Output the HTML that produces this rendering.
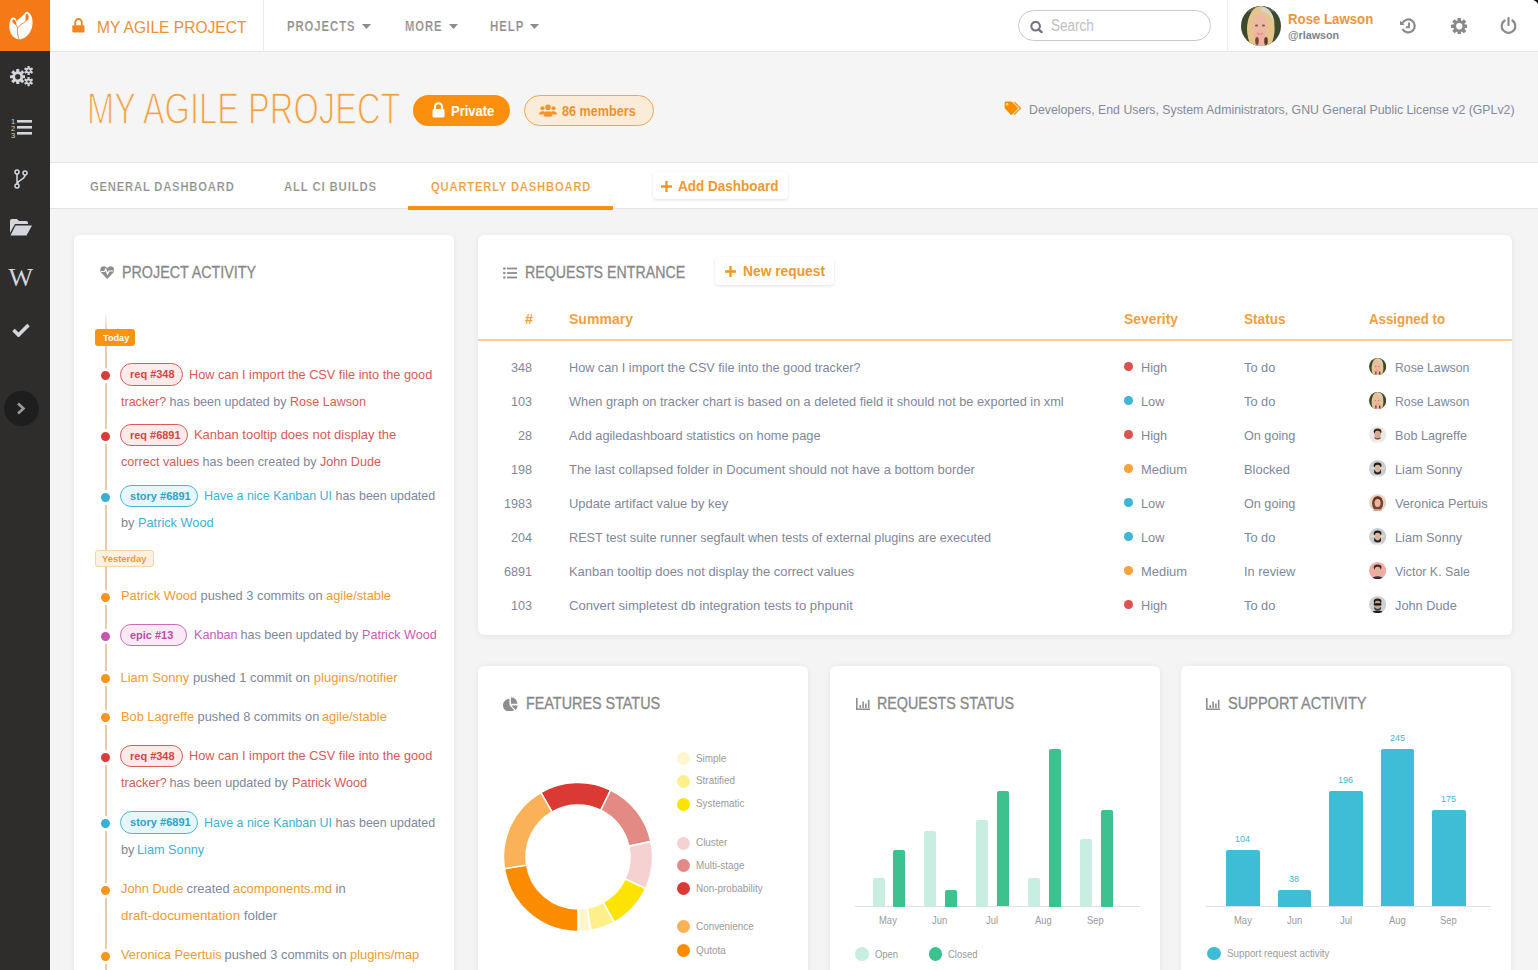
<!DOCTYPE html>
<html><head><meta charset="utf-8"><title>My Agile Project</title>
<style>
html,body{margin:0;padding:0;}
body{width:1538px;height:970px;overflow:hidden;position:relative;background:#f3f3f3;font-family:"Liberation Sans",sans-serif;}
.b{position:absolute;}
.t{position:absolute;white-space:pre;line-height:1;transform-origin:0 50%;}
</style></head><body>
<div class="b" style="left:50px;top:0px;width:1488px;height:51px;background:#fff;"></div>
<div class="b" style="left:50px;top:51px;width:1488px;height:1px;background:#e6e6e6;"></div>
<div class="b" style="left:50px;top:52px;width:1488px;height:110px;background:#f5f5f5;"></div>
<div class="b" style="left:50px;top:162px;width:1488px;height:1px;background:#e3e3e3;"></div>
<div class="b" style="left:50px;top:163px;width:1488px;height:45px;background:#fff;"></div>
<div class="b" style="left:50px;top:208px;width:1488px;height:1px;background:#e4e4e4;"></div>
<div class="b" style="left:50px;top:209px;width:1488px;height:761px;background:#f4f4f4;"></div>
<div class="b" style="left:0px;top:0px;width:50px;height:51px;background:#f57a17;"></div>
<div class="b" style="left:0px;top:51px;width:50px;height:919px;background:#2f2d2c;"></div>
<svg class="b" style="left:0px;top:0px" width="50" height="51" viewBox="0 0 50 51">
<path d="M19.5 39.5 C13 38.5 9 33 9.3 26 C9.5 21.5 10.5 18 13 17.5 C15.2 17 16.3 19.3 16.7 21.3 C18 19.6 20 17.8 21.8 16.6 C23.6 15.2 25.3 11.6 27.5 11.8 C30 12.5 32.8 17 32.6 23 C32.4 31 27 38.5 19.5 39.5Z" fill="#fff"/>
<path d="M12.3 21 C12.5 19.3 13.6 19 14.6 19.8 C15.8 21 16.6 23.5 16.3 25.2 C14.6 24.6 12.2 23 12.3 21Z" fill="#f57a17"/>
<path d="M26.3 13.8 C27.2 13.3 28.4 14.5 28.7 16.5 C28.9 18.3 28 20.6 25.6 21.3 C25.4 18.5 25.5 15.3 26.3 13.8Z" fill="#f57a17"/>
<path d="M25.6 21.4 C22.5 23.4 19.5 25.5 17.8 27.8 C16.8 30.5 17.6 35 19.2 39.5" fill="none" stroke="#e0782a" stroke-width="0.9"/>
<path d="M16.3 25.2 C16.8 26 17.3 27 17.8 27.8" fill="none" stroke="#e0782a" stroke-width="0.9"/>
</svg>
<svg class="b" style="left:72px;top:18px" width="13" height="15" viewBox="0 0 13 15">
<path d="M3.2 7.5 V4.6 A3.3 3.6 0 0 1 9.8 4.6 V7.5" fill="none" stroke="#f08522" stroke-width="1.9"/>
<rect x="0.3" y="7.2" width="12.2" height="7.2" rx="0.8" fill="#f08522"/></svg>
<div class="t" style="left:96.80px;top:18.71px;font-size:17px;color:#ed8f33;transform:scaleX(0.9165);">MY AGILE PROJECT</div>
<div class="b" style="left:263px;top:0px;width:1px;height:51px;background:#ebebf0;"></div>
<div class="t" style="left:287.40px;top:18.94px;font-size:14.6px;color:#8c8c8c;font-weight:bold;letter-spacing:1.2px;transform:scaleX(0.7769);-webkit-text-stroke:0.22px #fff;">PROJECTS</div>
<svg class="b" style="left:361.5px;top:23.8px" width="9" height="5" viewBox="0 0 9 5"><path d="M0 0H9L4.5 5Z" fill="#8c8c8c"/></svg>
<div class="t" style="left:405.00px;top:18.94px;font-size:14.6px;color:#8c8c8c;font-weight:bold;letter-spacing:1.2px;transform:scaleX(0.7716);-webkit-text-stroke:0.22px #fff;">MORE</div>
<svg class="b" style="left:448.5px;top:23.8px" width="9" height="5" viewBox="0 0 9 5"><path d="M0 0H9L4.5 5Z" fill="#8c8c8c"/></svg>
<div class="t" style="left:490.00px;top:18.94px;font-size:14.6px;color:#8c8c8c;font-weight:bold;letter-spacing:1.2px;transform:scaleX(0.7865);-webkit-text-stroke:0.22px #fff;">HELP</div>
<svg class="b" style="left:530px;top:23.8px" width="9" height="5" viewBox="0 0 9 5"><path d="M0 0H9L4.5 5Z" fill="#8c8c8c"/></svg>
<div class="b" style="left:1018px;top:10px;width:193px;height:31px;box-sizing:border-box;border:1px solid #c9c9c9;border-radius:16px;background:#fff;"></div>
<svg class="b" style="left:1030px;top:21px" width="13" height="12" viewBox="0 0 13 12">
<circle cx="5.6" cy="5.2" r="4.3" fill="none" stroke="#6e7482" stroke-width="2.1"/><path d="M8.6 8.3 L11.6 11.2" stroke="#6e7482" stroke-width="2.3" stroke-linecap="round"/></svg>
<div class="t" style="left:1051.00px;top:18.46px;font-size:16px;color:#c0c0c0;transform:scaleX(0.8423);">Search</div>
<div class="b" style="left:1227px;top:0px;width:1px;height:51px;background:#ebebf0;"></div>
<svg class="b" style="left:1241px;top:6px" width="40" height="40" viewBox="0 0 40 40">
<defs><clipPath id="c126126"><circle cx="20" cy="20" r="20"/></clipPath></defs>
<g clip-path="url(#c126126)"><rect width="40" height="40" fill="#3b4a2e"/>
<rect x="0" y="0" width="40" height="6" fill="#5a5e50"/>
<ellipse cx="19.8" cy="23" rx="13.8" ry="23" fill="#e6c58c"/>
<path d="M20 1 C28 1 33 8 33.5 18 C31 12 27 6 20 5Z" fill="#d9d3c5"/>
<ellipse cx="18.8" cy="21" rx="7.6" ry="13" fill="#efb7a6"/>
<rect x="14" y="28" width="10" height="14" fill="#eeb0a0"/>
<ellipse cx="15.5" cy="19.5" rx="1.6" ry="0.9" fill="#7a5a50"/><ellipse cx="22.5" cy="19.5" rx="1.6" ry="0.9" fill="#7a5a50"/><path d="M16 27 Q19 29.5 22 27" fill="none" stroke="#d88a80" stroke-width="1.2"/><ellipse cx="16" cy="35" rx="1.8" ry="4" fill="#7a4a36"/><ellipse cx="25" cy="35" rx="1.8" ry="4" fill="#5a3a2a"/>
</g></svg>
<div class="t" style="left:1287.50px;top:11.35px;font-size:15.3px;color:#ec963a;font-weight:bold;transform:scaleX(0.8649);">Rose Lawson</div>
<div class="t" style="left:1287.50px;top:30.07px;font-size:11.5px;color:#7c8394;font-weight:bold;transform:scaleX(0.9365);">@rlawson</div>
<svg class="b" style="left:1399px;top:17px" width="18" height="18" viewBox="0 0 18 18">
<path d="M3.2 6.5 A6.5 6.5 0 1 1 3.5 12" fill="none" stroke="#8a8a8a" stroke-width="2.2"/>
<path d="M1 3.5 L5.5 8 L1 8Z" fill="#8a8a8a"/>
<path d="M10 5.5 V10.2 H6.8" fill="none" stroke="#8a8a8a" stroke-width="1.9"/></svg>
<svg class="b" style="left:1450.5px;top:17.5px" width="16.5" height="16.5" viewBox="0 0 100 100"><rect x="39.0" y="0" width="22" height="30" rx="3" fill="#8a8a8a" transform="rotate(0.0 50 50)"/><rect x="39.0" y="0" width="22" height="30" rx="3" fill="#8a8a8a" transform="rotate(45.0 50 50)"/><rect x="39.0" y="0" width="22" height="30" rx="3" fill="#8a8a8a" transform="rotate(90.0 50 50)"/><rect x="39.0" y="0" width="22" height="30" rx="3" fill="#8a8a8a" transform="rotate(135.0 50 50)"/><rect x="39.0" y="0" width="22" height="30" rx="3" fill="#8a8a8a" transform="rotate(180.0 50 50)"/><rect x="39.0" y="0" width="22" height="30" rx="3" fill="#8a8a8a" transform="rotate(225.0 50 50)"/><rect x="39.0" y="0" width="22" height="30" rx="3" fill="#8a8a8a" transform="rotate(270.0 50 50)"/><rect x="39.0" y="0" width="22" height="30" rx="3" fill="#8a8a8a" transform="rotate(315.0 50 50)"/><circle cx="50" cy="50" r="36" fill="#8a8a8a"/><circle cx="50" cy="50" r="19" fill="#fff"/></svg>
<svg class="b" style="left:1500px;top:17px" width="17" height="17" viewBox="0 0 17 17">
<path d="M4.6 3.5 A6.8 6.8 0 1 0 12.4 3.5" fill="none" stroke="#8a8a8a" stroke-width="2.2" stroke-linecap="round"/>
<path d="M8.5 1.2 V8" stroke="#8a8a8a" stroke-width="2.2" stroke-linecap="round"/></svg>
<svg class="b" style="left:1533px;top:0px" width="5" height="4" viewBox="0 0 5 4"><path d="M0 0 H5 V4 C4 2 2 0.6 0 0Z" fill="#111"/></svg>
<div class="t" style="left:86.80px;top:86.95px;font-size:44px;color:#f3a03c;transform:scaleX(0.7425);-webkit-text-stroke:1.3px #f5f5f5;">MY AGILE PROJECT</div>
<div class="b" style="left:413px;top:95px;width:97px;height:31px;background:#fc8f0e;border-radius:16px;"></div>
<svg class="b" style="left:432px;top:102px" width="13" height="16" viewBox="0 0 13 16">
<path d="M3 7 V4.8 A3.5 3.5 0 0 1 10 4.8 V7" fill="none" stroke="#fff" stroke-width="2"/>
<rect x="0.5" y="7" width="12" height="8.5" rx="1.5" fill="#fff"/></svg>
<div class="t" style="left:450.80px;top:103.65px;font-size:14px;color:#fff;font-weight:bold;transform:scaleX(0.9272);">Private</div>
<div class="b" style="left:524px;top:95px;width:130px;height:31px;box-sizing:border-box;background:#fbebd9;border:1px solid #f3a54d;border-radius:16px;"></div>
<svg class="b" style="left:539px;top:104px" width="18" height="13" viewBox="0 0 18 13">
<circle cx="9" cy="3.2" r="2.8" fill="#f3952b"/><circle cx="3.5" cy="4.3" r="2" fill="#f3952b"/><circle cx="14.5" cy="4.3" r="2" fill="#f3952b"/>
<rect x="4.6" y="7.6" width="8.8" height="5.2" rx="1.8" fill="#f3952b"/><path d="M0 10.5 C0 7 5 6.5 6 8.5 L4 10.5Z" fill="#f3952b"/><path d="M18 10.5 C18 7 13 6.5 12 8.5 L14 10.5Z" fill="#f3952b"/></svg>
<div class="t" style="left:562.40px;top:103.65px;font-size:14px;color:#f0912a;font-weight:bold;transform:scaleX(0.9019);">86 members</div>
<svg class="b" style="left:1004px;top:101px" width="18" height="15" viewBox="0 0 18 15">
<path d="M0.6 1.8 Q0.6 0.6 1.8 0.6 H6.8 Q7.8 0.6 8.5 1.3 L13.6 6.4 Q14.4 7.3 13.6 8.1 L8.4 13.4 Q7.5 14.3 6.6 13.4 L1.3 8.1 Q0.6 7.4 0.6 6.4Z" fill="#fb8d00"/>
<circle cx="3.1" cy="3.3" r="1.2" fill="#fde3a0"/>
<path d="M10.2 1 L16.4 7.3 L10.2 13.6" fill="none" stroke="#f59a22" stroke-width="1.5" stroke-linejoin="round"/></svg>
<div class="t" style="left:1029.00px;top:102.63px;font-size:13.2px;color:#838a9a;transform:scaleX(0.9330);">Developers, End Users, System Administrators, GNU General Public License v2 (GPLv2)</div>
<div class="t" style="left:89.80px;top:179.69px;font-size:13.6px;color:#8e8e8e;font-weight:bold;letter-spacing:1.0px;transform:scaleX(0.8243);-webkit-text-stroke:0.22px #fff;">GENERAL DASHBOARD</div>
<div class="t" style="left:283.70px;top:179.69px;font-size:13.6px;color:#8e8e8e;font-weight:bold;letter-spacing:1.0px;transform:scaleX(0.8381);-webkit-text-stroke:0.22px #fff;">ALL CI BUILDS</div>
<div class="t" style="left:430.70px;top:179.69px;font-size:13.6px;color:#f19a38;font-weight:bold;letter-spacing:1.0px;transform:scaleX(0.8250);-webkit-text-stroke:0.22px #fff;">QUARTERLY DASHBOARD</div>
<div class="b" style="left:408px;top:206px;width:205px;height:3.6999999999999886px;background:#f68f0e;"></div>
<div class="b" style="left:653px;top:172px;width:135px;height:27px;background:#fff;border-radius:4px;box-shadow:0 1px 3px rgba(0,0,0,0.12);"></div>
<svg class="b" style="left:660.9px;top:180.9px" width="11" height="11" viewBox="0 0 11 11"><path d="M5.5 0.3 V10.7 M0.3 5.5 H10.7" stroke="#f3951f" stroke-width="2.3" stroke-linecap="round"/></svg>
<div class="t" style="left:677.80px;top:177.70px;font-size:15px;color:#f0982f;font-weight:bold;transform:scaleX(0.9008);">Add Dashboard</div>
<div class="b" style="left:74px;top:235px;width:380px;height:755px;background:#fff;border-radius:6px;box-shadow:0 1px 6px rgba(0,0,0,0.07);"></div>
<div class="b" style="left:478px;top:235px;width:1034px;height:400px;background:#fff;border-radius:6px;box-shadow:0 1px 6px rgba(0,0,0,0.07);"></div>
<div class="b" style="left:478px;top:666px;width:330px;height:324px;background:#fff;border-radius:6px;box-shadow:0 1px 6px rgba(0,0,0,0.07);"></div>
<div class="b" style="left:830px;top:666px;width:330px;height:324px;background:#fff;border-radius:6px;box-shadow:0 1px 6px rgba(0,0,0,0.07);"></div>
<div class="b" style="left:1181px;top:666px;width:330px;height:324px;background:#fff;border-radius:6px;box-shadow:0 1px 6px rgba(0,0,0,0.07);"></div>
<svg class="b" style="left:99.5px;top:266px" width="14.5" height="13" viewBox="0 0 29 26">
<path d="M14.5 26 L3 14 C-2 9 1 0 8 0.5 C11 0.7 13 2.5 14.5 4.5 C16 2.5 18 0.7 21 0.5 C28 0 31 9 26 14Z" fill="#8e8e8e"/>
<path d="M2 11 H9 L11.5 6.5 L15 16 L18 10 H27" fill="none" stroke="#fff" stroke-width="2.4"/></svg>
<div class="t" style="left:122.00px;top:265.26px;font-size:16px;color:#888888;transform:scaleX(0.8936);-webkit-text-stroke:0.3px #888;">PROJECT ACTIVITY</div>
<svg class="b" style="left:503px;top:266.5px" width="14" height="12" viewBox="0 0 14 12">
<circle cx="1.3" cy="1.5" r="1.3" fill="#8e8e8e"/><circle cx="1.3" cy="6" r="1.3" fill="#8e8e8e"/><circle cx="1.3" cy="10.5" r="1.3" fill="#8e8e8e"/>
<rect x="4" y="0.6" width="10" height="1.8" fill="#8e8e8e"/><rect x="4" y="5.1" width="10" height="1.8" fill="#8e8e8e"/><rect x="4" y="9.6" width="10" height="1.8" fill="#8e8e8e"/></svg>
<div class="t" style="left:524.50px;top:265.36px;font-size:16px;color:#888888;transform:scaleX(0.8871);-webkit-text-stroke:0.3px #888;">REQUESTS ENTRANCE</div>
<div class="b" style="left:715px;top:257px;width:119px;height:28px;background:#fff;border-radius:4px;box-shadow:0 1px 3px rgba(0,0,0,0.12);"></div>
<svg class="b" style="left:725.4px;top:265.8px" width="11" height="11" viewBox="0 0 11 11"><path d="M5.5 0.3 V10.7 M0.3 5.5 H10.7" stroke="#f3951f" stroke-width="2.3" stroke-linecap="round"/></svg>
<div class="t" style="left:742.70px;top:263.73px;font-size:14.5px;color:#f0982f;font-weight:bold;transform:scaleX(0.9510);">New request</div>
<svg class="b" style="left:503.3px;top:696.6px" width="15" height="14.5" viewBox="0 0 100 100">
<path d="M43 57 L43 12 A45 45 0 1 0 74.8 88.8 Z" fill="#8e8e8e"/>
<path d="M53 47 L53 2 A45 45 0 0 1 98 47 Z" fill="#8e8e8e"/>
<path d="M55 59 L99 59 A45 45 0 0 1 86 90 Z" fill="#8e8e8e"/></svg>
<div class="t" style="left:525.90px;top:696.06px;font-size:16px;color:#888888;transform:scaleX(0.8979);-webkit-text-stroke:0.3px #888;">FEATURES STATUS</div>
<svg class="b" style="left:855.5px;top:698px" width="14" height="12" viewBox="0 0 14 12">
<path d="M0.8 0 V11.2 H14" fill="none" stroke="#8e8e8e" stroke-width="1.6"/>
<rect x="3.5" y="7" width="1.6" height="3" fill="#8e8e8e"/><rect x="6.3" y="3.5" width="1.6" height="6.5" fill="#8e8e8e"/>
<rect x="9.1" y="5.5" width="1.6" height="4.5" fill="#8e8e8e"/><rect x="11.9" y="2" width="1.6" height="8" fill="#8e8e8e"/></svg>
<div class="t" style="left:876.50px;top:696.06px;font-size:16px;color:#888888;transform:scaleX(0.8942);-webkit-text-stroke:0.3px #888;">REQUESTS STATUS</div>
<svg class="b" style="left:1206px;top:698px" width="14" height="12" viewBox="0 0 14 12">
<path d="M0.8 0 V11.2 H14" fill="none" stroke="#8e8e8e" stroke-width="1.6"/>
<rect x="3.5" y="7" width="1.6" height="3" fill="#8e8e8e"/><rect x="6.3" y="3.5" width="1.6" height="6.5" fill="#8e8e8e"/>
<rect x="9.1" y="5.5" width="1.6" height="4.5" fill="#8e8e8e"/><rect x="11.9" y="2" width="1.6" height="8" fill="#8e8e8e"/></svg>
<div class="t" style="left:1227.70px;top:696.06px;font-size:16px;color:#888888;transform:scaleX(0.9091);-webkit-text-stroke:0.3px #888;">SUPPORT ACTIVITY</div>
<div class="t" style="left:524.50px;top:311.73px;font-size:14.5px;color:#f0a040;font-weight:bold;transform:scaleX(0.9920);">#</div>
<div class="t" style="left:568.50px;top:311.73px;font-size:14.5px;color:#f0a040;font-weight:bold;transform:scaleX(0.9684);">Summary</div>
<div class="t" style="left:1124.00px;top:311.73px;font-size:14.5px;color:#f0a040;font-weight:bold;transform:scaleX(0.9569);">Severity</div>
<div class="t" style="left:1243.70px;top:311.73px;font-size:14.5px;color:#f0a040;font-weight:bold;transform:scaleX(0.9364);">Status</div>
<div class="t" style="left:1369.00px;top:311.73px;font-size:14.5px;color:#f0a040;font-weight:bold;transform:scaleX(0.9159);">Assigned to</div>
<div class="b" style="left:478px;top:339px;width:1034px;height:2px;background:#f8cd94;"></div>
<div class="t" style="left:511.34px;top:360.80px;font-size:13px;color:#80879a;transform:scaleX(0.9710);">348</div>
<div class="t" style="left:568.50px;top:360.80px;font-size:13px;color:#80879a;transform:scaleX(0.9748);">How can I import the CSV file into the good tracker?</div>
<div class="b" style="left:1124px;top:362.40000000000003px;width:8.5px;height:8.5px;background:#d9534f;border-radius:50%;"></div>
<div class="t" style="left:1141.20px;top:360.80px;font-size:13px;color:#80879a;transform:scaleX(0.9762);">High</div>
<div class="t" style="left:1243.50px;top:360.80px;font-size:13px;color:#80879a;transform:scaleX(0.9842);">To do</div>
<svg class="b" style="left:1369.0px;top:357.7px" width="17.2" height="17.2" viewBox="0 0 40 40">
<defs><clipPath id="c1377.6366.3"><circle cx="20" cy="20" r="20"/></clipPath></defs>
<g clip-path="url(#c1377.6366.3)"><rect width="40" height="40" fill="#3b4a2e"/>
<rect x="0" y="0" width="40" height="6" fill="#5a5e50"/>
<ellipse cx="19.8" cy="23" rx="13.8" ry="23" fill="#e6c58c"/>
<path d="M20 1 C28 1 33 8 33.5 18 C31 12 27 6 20 5Z" fill="#d9d3c5"/>
<ellipse cx="18.8" cy="21" rx="7.6" ry="13" fill="#efb7a6"/>
<rect x="14" y="28" width="10" height="14" fill="#eeb0a0"/>
<ellipse cx="15.5" cy="19.5" rx="1.6" ry="0.9" fill="#7a5a50"/><ellipse cx="22.5" cy="19.5" rx="1.6" ry="0.9" fill="#7a5a50"/><path d="M16 27 Q19 29.5 22 27" fill="none" stroke="#d88a80" stroke-width="1.2"/><ellipse cx="16" cy="35" rx="1.8" ry="4" fill="#7a4a36"/><ellipse cx="25" cy="35" rx="1.8" ry="4" fill="#5a3a2a"/>
</g></svg>
<div class="t" style="left:1395.20px;top:360.80px;font-size:13px;color:#80879a;transform:scaleX(0.9433);">Rose Lawson</div>
<div class="t" style="left:511.34px;top:394.80px;font-size:13px;color:#80879a;transform:scaleX(0.9710);">103</div>
<div class="t" style="left:568.50px;top:394.80px;font-size:13px;color:#80879a;transform:scaleX(0.9836);">When graph on tracker chart is based on a deleted field it should not be exported in xml</div>
<div class="b" style="left:1124px;top:396.40000000000003px;width:8.5px;height:8.5px;background:#3fb6d3;border-radius:50%;"></div>
<div class="t" style="left:1141.20px;top:394.80px;font-size:13px;color:#80879a;transform:scaleX(0.9854);">Low</div>
<div class="t" style="left:1243.50px;top:394.80px;font-size:13px;color:#80879a;transform:scaleX(0.9842);">To do</div>
<svg class="b" style="left:1369.0px;top:391.7px" width="17.2" height="17.2" viewBox="0 0 40 40">
<defs><clipPath id="c1377.6400.3"><circle cx="20" cy="20" r="20"/></clipPath></defs>
<g clip-path="url(#c1377.6400.3)"><rect width="40" height="40" fill="#3b4a2e"/>
<rect x="0" y="0" width="40" height="6" fill="#5a5e50"/>
<ellipse cx="19.8" cy="23" rx="13.8" ry="23" fill="#e6c58c"/>
<path d="M20 1 C28 1 33 8 33.5 18 C31 12 27 6 20 5Z" fill="#d9d3c5"/>
<ellipse cx="18.8" cy="21" rx="7.6" ry="13" fill="#efb7a6"/>
<rect x="14" y="28" width="10" height="14" fill="#eeb0a0"/>
<ellipse cx="15.5" cy="19.5" rx="1.6" ry="0.9" fill="#7a5a50"/><ellipse cx="22.5" cy="19.5" rx="1.6" ry="0.9" fill="#7a5a50"/><path d="M16 27 Q19 29.5 22 27" fill="none" stroke="#d88a80" stroke-width="1.2"/><ellipse cx="16" cy="35" rx="1.8" ry="4" fill="#7a4a36"/><ellipse cx="25" cy="35" rx="1.8" ry="4" fill="#5a3a2a"/>
</g></svg>
<div class="t" style="left:1395.20px;top:394.80px;font-size:13px;color:#80879a;transform:scaleX(0.9433);">Rose Lawson</div>
<div class="t" style="left:518.36px;top:428.80px;font-size:13px;color:#80879a;transform:scaleX(0.9710);">28</div>
<div class="t" style="left:568.50px;top:428.80px;font-size:13px;color:#80879a;transform:scaleX(0.9830);">Add agiledashboard statistics on home page</div>
<div class="b" style="left:1124px;top:430.40000000000003px;width:8.5px;height:8.5px;background:#d9534f;border-radius:50%;"></div>
<div class="t" style="left:1141.20px;top:428.80px;font-size:13px;color:#80879a;transform:scaleX(0.9762);">High</div>
<div class="t" style="left:1243.50px;top:428.80px;font-size:13px;color:#80879a;transform:scaleX(0.9723);">On going</div>
<svg class="b" style="left:1369.0px;top:425.7px" width="17.2" height="17.2" viewBox="0 0 40 40">
<defs><clipPath id="c1377.6434.3"><circle cx="20" cy="20" r="20"/></clipPath></defs>
<g clip-path="url(#c1377.6434.3)"><rect width="40" height="40" fill="#e9e9e9"/>
<ellipse cx="20" cy="13" rx="9" ry="7" fill="#3a2a22"/>
<ellipse cx="20" cy="21" rx="7.5" ry="10" fill="#d9aa8e"/>
<path d="M13 26 Q20 31 27 26 L27 29 Q20 34 13 29Z" fill="#6a4a3a"/><path d="M6 40 C8 33 32 33 34 40Z" fill="#f0f0f0"/></g></svg>
<div class="t" style="left:1395.20px;top:428.80px;font-size:13px;color:#80879a;transform:scaleX(0.9688);">Bob Lagreffe</div>
<div class="t" style="left:511.34px;top:462.80px;font-size:13px;color:#80879a;transform:scaleX(0.9710);">198</div>
<div class="t" style="left:568.50px;top:462.80px;font-size:13px;color:#80879a;transform:scaleX(0.9941);">The last collapsed folder in Document should not have a bottom border</div>
<div class="b" style="left:1124px;top:464.40000000000003px;width:8.5px;height:8.5px;background:#f6a33c;border-radius:50%;"></div>
<div class="t" style="left:1141.20px;top:462.80px;font-size:13px;color:#80879a;transform:scaleX(0.9948);">Medium</div>
<div class="t" style="left:1243.50px;top:462.80px;font-size:13px;color:#80879a;transform:scaleX(0.9924);">Blocked</div>
<svg class="b" style="left:1369.0px;top:459.7px" width="17.2" height="17.2" viewBox="0 0 40 40">
<defs><clipPath id="c1377.6468.3"><circle cx="20" cy="20" r="20"/></clipPath></defs>
<g clip-path="url(#c1377.6468.3)"><rect width="40" height="40" fill="#c8ccd2"/>
<ellipse cx="20" cy="13" rx="9" ry="7" fill="#1e1e1e"/>
<ellipse cx="20" cy="21" rx="7.5" ry="10" fill="#d8b49c"/>
<path d="M12 22 Q20 36 28 22 L28 30 Q20 38 12 30Z" fill="#222"/><rect x="4" y="17" width="10" height="4" fill="#e9dcc0"/><rect x="26" y="17" width="10" height="4" fill="#e9dcc0"/><path d="M6 40 C8 33 32 33 34 40Z" fill="#e8e8e8"/></g></svg>
<div class="t" style="left:1395.20px;top:462.80px;font-size:13px;color:#80879a;transform:scaleX(0.9788);">Liam Sonny</div>
<div class="t" style="left:504.32px;top:496.80px;font-size:13px;color:#80879a;transform:scaleX(0.9710);">1983</div>
<div class="t" style="left:568.50px;top:496.80px;font-size:13px;color:#80879a;transform:scaleX(0.9918);">Update artifact value by key</div>
<div class="b" style="left:1124px;top:498.40000000000003px;width:8.5px;height:8.5px;background:#3fb6d3;border-radius:50%;"></div>
<div class="t" style="left:1141.20px;top:496.80px;font-size:13px;color:#80879a;transform:scaleX(0.9854);">Low</div>
<div class="t" style="left:1243.50px;top:496.80px;font-size:13px;color:#80879a;transform:scaleX(0.9723);">On going</div>
<svg class="b" style="left:1369.0px;top:493.7px" width="17.2" height="17.2" viewBox="0 0 40 40">
<defs><clipPath id="c1377.6502.3"><circle cx="20" cy="20" r="20"/></clipPath></defs>
<g clip-path="url(#c1377.6502.3)"><rect width="40" height="40" fill="#e9d2c6"/>
<ellipse cx="20" cy="13" rx="9" ry="7" fill="#5a2a18"/>
<ellipse cx="20" cy="21" rx="7.5" ry="10" fill="#e2b09a"/>
<ellipse cx="20" cy="22" rx="13" ry="17" fill="#6a3420" opacity="0.9"/><ellipse cx="20" cy="21" rx="7" ry="9.5" fill="#e8b6a0"/><path d="M6 40 C8 33 32 33 34 40Z" fill="#d9a08a"/></g></svg>
<div class="t" style="left:1395.20px;top:496.80px;font-size:13px;color:#80879a;transform:scaleX(0.9771);">Veronica Pertuis</div>
<div class="t" style="left:511.34px;top:530.80px;font-size:13px;color:#80879a;transform:scaleX(0.9710);">204</div>
<div class="t" style="left:568.50px;top:530.80px;font-size:13px;color:#80879a;transform:scaleX(0.9722);">REST test suite runner segfault when tests of external plugins are executed</div>
<div class="b" style="left:1124px;top:532.4px;width:8.5px;height:8.5px;background:#3fb6d3;border-radius:50%;"></div>
<div class="t" style="left:1141.20px;top:530.80px;font-size:13px;color:#80879a;transform:scaleX(0.9854);">Low</div>
<div class="t" style="left:1243.50px;top:530.80px;font-size:13px;color:#80879a;transform:scaleX(0.9842);">To do</div>
<svg class="b" style="left:1369.0px;top:527.6999999999999px" width="17.2" height="17.2" viewBox="0 0 40 40">
<defs><clipPath id="c1377.6536.3"><circle cx="20" cy="20" r="20"/></clipPath></defs>
<g clip-path="url(#c1377.6536.3)"><rect width="40" height="40" fill="#c8ccd2"/>
<ellipse cx="20" cy="13" rx="9" ry="7" fill="#1e1e1e"/>
<ellipse cx="20" cy="21" rx="7.5" ry="10" fill="#d8b49c"/>
<path d="M12 22 Q20 36 28 22 L28 30 Q20 38 12 30Z" fill="#222"/><rect x="4" y="17" width="10" height="4" fill="#e9dcc0"/><rect x="26" y="17" width="10" height="4" fill="#e9dcc0"/><path d="M6 40 C8 33 32 33 34 40Z" fill="#e8e8e8"/></g></svg>
<div class="t" style="left:1395.20px;top:530.80px;font-size:13px;color:#80879a;transform:scaleX(0.9788);">Liam Sonny</div>
<div class="t" style="left:504.32px;top:564.80px;font-size:13px;color:#80879a;transform:scaleX(0.9710);">6891</div>
<div class="t" style="left:568.50px;top:564.80px;font-size:13px;color:#80879a;transform:scaleX(0.9944);">Kanban tooltip does not display the correct values</div>
<div class="b" style="left:1124px;top:566.4px;width:8.5px;height:8.5px;background:#f6a33c;border-radius:50%;"></div>
<div class="t" style="left:1141.20px;top:564.80px;font-size:13px;color:#80879a;transform:scaleX(0.9948);">Medium</div>
<div class="t" style="left:1243.50px;top:564.80px;font-size:13px;color:#80879a;transform:scaleX(0.9862);">In review</div>
<svg class="b" style="left:1369.0px;top:561.6999999999999px" width="17.2" height="17.2" viewBox="0 0 40 40">
<defs><clipPath id="c1377.6570.3"><circle cx="20" cy="20" r="20"/></clipPath></defs>
<g clip-path="url(#c1377.6570.3)"><rect width="40" height="40" fill="#f3a9a6"/>
<ellipse cx="20" cy="13" rx="9" ry="7" fill="#3a2a22"/>
<ellipse cx="20" cy="21" rx="7.5" ry="10" fill="#e2b49c"/>
<path d="M6 40 C8 31 32 31 34 40Z" fill="#2e3036"/></g></svg>
<div class="t" style="left:1395.20px;top:564.80px;font-size:13px;color:#80879a;transform:scaleX(0.9526);">Victor K. Sale</div>
<div class="t" style="left:511.34px;top:598.80px;font-size:13px;color:#80879a;transform:scaleX(0.9710);">103</div>
<div class="t" style="left:568.50px;top:598.80px;font-size:13px;color:#80879a;transform:scaleX(1.0070);">Convert simpletest db integration tests to phpunit</div>
<div class="b" style="left:1124px;top:600.4px;width:8.5px;height:8.5px;background:#d9534f;border-radius:50%;"></div>
<div class="t" style="left:1141.20px;top:598.80px;font-size:13px;color:#80879a;transform:scaleX(0.9762);">High</div>
<div class="t" style="left:1243.50px;top:598.80px;font-size:13px;color:#80879a;transform:scaleX(0.9842);">To do</div>
<svg class="b" style="left:1369.0px;top:595.6999999999999px" width="17.2" height="17.2" viewBox="0 0 40 40">
<defs><clipPath id="c1377.6604.3"><circle cx="20" cy="20" r="20"/></clipPath></defs>
<g clip-path="url(#c1377.6604.3)"><rect width="40" height="40" fill="#cfcfcf"/>
<ellipse cx="20" cy="13" rx="9" ry="7" fill="#222"/>
<ellipse cx="20" cy="21" rx="7.5" ry="10" fill="#c9a48c"/>
<rect x="11" y="17" width="18" height="5" rx="2" fill="#111"/><path d="M12 25 Q20 36 28 25 L28 30 Q20 38 12 30Z" fill="#333"/><path d="M6 40 C8 32 32 32 34 40Z" fill="#1e1e1e"/></g></svg>
<div class="t" style="left:1395.20px;top:598.80px;font-size:13px;color:#80879a;transform:scaleX(0.9828);">John Dude</div>
<div class="b" style="left:105.1px;top:312px;width:1.8000000000000114px;height:658px;background:linear-gradient(#fff,#eecb9e 20px);"></div>
<div class="b" style="left:94.6px;top:328.7px;width:40.900000000000006px;height:17.30000000000001px;background:#fb9312;border-radius:3px;"></div>
<div class="t" style="left:102.60px;top:332.67px;font-size:9.6px;color:#fff;font-weight:bold;transform:scaleX(0.9543);">Today</div>
<div class="b" style="left:94.9px;top:550.2px;width:58.79999999999998px;height:17.299999999999955px;box-sizing:border-box;background:#fdf1e2;border:1px solid #f7d3a6;border-radius:3px;"></div>
<div class="t" style="left:102.20px;top:554.17px;font-size:9.6px;color:#ef9a35;font-weight:bold;transform:scaleX(0.9809);">Yesterday</div>
<div class="b" style="left:98.1px;top:368.0px;width:9px;height:9px;border:3px solid #fff;border-radius:50%;background:#d83c37;"></div>
<div class="b" style="left:120.2px;top:363.3px;width:62.499999999999986px;height:22.3px;box-sizing:border-box;background:#fdeaea;border:1px solid #dc5b57;border-radius:12px;"></div>
<div class="t" style="left:129.50px;top:369.26px;font-size:10.8px;color:#cf4843;font-weight:bold;transform:scaleX(1.0175);">req #348</div>
<div class="t" style="left:188.90px;top:367.60px;font-size:13px;color:#d65a55;transform:scaleX(0.9784);">How can I import the CSV file into the good</div>
<div class="t" style="left:120.50px;top:394.60px;font-size:13px;color:#d65a55;transform:scaleX(0.9635);">tracker?</div>
<div class="t" style="left:165.75px;top:394.60px;font-size:13px;color:#80879a;transform:scaleX(0.9635);"> has been updated by </div>
<div class="t" style="left:289.71px;top:394.60px;font-size:13px;color:#d65a55;transform:scaleX(0.9635);">Rose Lawson</div>
<div class="b" style="left:98.1px;top:428.5px;width:9px;height:9px;border:3px solid #fff;border-radius:50%;background:#d83c37;"></div>
<div class="b" style="left:120.2px;top:423.8px;width:67.49999999999999px;height:22.3px;box-sizing:border-box;background:#fdeaea;border:1px solid #dc5b57;border-radius:12px;"></div>
<div class="t" style="left:129.50px;top:429.76px;font-size:10.8px;color:#cf4843;font-weight:bold;transform:scaleX(1.0132);">req #6891</div>
<div class="t" style="left:193.90px;top:428.10px;font-size:13px;color:#d65a55;">Kanban tooltip does not display the</div>
<div class="t" style="left:120.50px;top:455.10px;font-size:13px;color:#d65a55;transform:scaleX(0.9683);">correct values</div>
<div class="t" style="left:198.85px;top:455.10px;font-size:13px;color:#80879a;transform:scaleX(0.9683);"> has been created by </div>
<div class="t" style="left:319.91px;top:455.10px;font-size:13px;color:#d65a55;transform:scaleX(0.9683);">John Dude</div>
<div class="b" style="left:98.1px;top:489.5px;width:9px;height:9px;border:3px solid #fff;border-radius:50%;background:#36b0d4;"></div>
<div class="b" style="left:120.2px;top:484.8px;width:77.7px;height:22.3px;box-sizing:border-box;background:#e7f6fa;border:1px solid #48b7d4;border-radius:12px;"></div>
<div class="t" style="left:129.50px;top:490.76px;font-size:10.8px;color:#2fa3c4;font-weight:bold;transform:scaleX(1.0211);">story #6891</div>
<div class="t" style="left:204.10px;top:489.10px;font-size:13px;color:#3ab3d2;transform:scaleX(0.9577);">Have a nice Kanban UI</div>
<div class="t" style="left:332.14px;top:489.10px;font-size:13px;color:#80879a;transform:scaleX(0.9577);"> has been updated</div>
<div class="t" style="left:120.50px;top:516.10px;font-size:13px;color:#80879a;transform:scaleX(0.9808);">by </div>
<div class="t" style="left:137.51px;top:516.10px;font-size:13px;color:#3ab3d2;transform:scaleX(0.9808);">Patrick Wood</div>
<div class="b" style="left:98.1px;top:589.5px;width:9px;height:9px;border:3px solid #fff;border-radius:50%;background:#f8941d;"></div>
<div class="t" style="left:120.50px;top:589.10px;font-size:13px;color:#f19a31;transform:scaleX(0.9878);">Patrick Wood</div>
<div class="t" style="left:196.63px;top:589.10px;font-size:13px;color:#80879a;transform:scaleX(0.9878);"> pushed 3 commits on </div>
<div class="t" style="left:325.83px;top:589.10px;font-size:13px;color:#f19a31;transform:scaleX(0.9878);">agile/stable</div>
<div class="b" style="left:98.1px;top:628.7px;width:9px;height:9px;border:3px solid #fff;border-radius:50%;background:#c955b0;"></div>
<div class="b" style="left:120.2px;top:624.0px;width:67.2px;height:22.3px;box-sizing:border-box;background:#fbeaf6;border:1px solid #d06cbc;border-radius:12px;"></div>
<div class="t" style="left:129.50px;top:629.96px;font-size:10.8px;color:#b84ea2;font-weight:bold;transform:scaleX(1.0157);">epic #13</div>
<div class="t" style="left:193.60px;top:628.30px;font-size:13px;color:#c95bb1;transform:scaleX(0.9695);">Kanban</div>
<div class="t" style="left:237.05px;top:628.30px;font-size:13px;color:#80879a;transform:scaleX(0.9695);"> has been updated by </div>
<div class="t" style="left:361.79px;top:628.30px;font-size:13px;color:#c95bb1;transform:scaleX(0.9695);">Patrick Wood</div>
<div class="b" style="left:98.1px;top:671.0px;width:9px;height:9px;border:3px solid #fff;border-radius:50%;background:#f8941d;"></div>
<div class="t" style="left:120.50px;top:670.60px;font-size:13px;color:#f19a31;">Liam Sonny</div>
<div class="t" style="left:189.28px;top:670.60px;font-size:13px;color:#80879a;"> pushed 1 commit on </div>
<div class="t" style="left:313.81px;top:670.60px;font-size:13px;color:#f19a31;">plugins/notifier</div>
<div class="b" style="left:98.1px;top:710.1px;width:9px;height:9px;border:3px solid #fff;border-radius:50%;background:#f8941d;"></div>
<div class="t" style="left:120.50px;top:709.70px;font-size:13px;color:#f19a31;transform:scaleX(0.9853);">Bob Lagreffe</div>
<div class="t" style="left:193.62px;top:709.70px;font-size:13px;color:#80879a;transform:scaleX(0.9853);"> pushed 8 commits on </div>
<div class="t" style="left:322.49px;top:709.70px;font-size:13px;color:#f19a31;transform:scaleX(0.9853);">agile/stable</div>
<div class="b" style="left:98.1px;top:749.5px;width:9px;height:9px;border:3px solid #fff;border-radius:50%;background:#d83c37;"></div>
<div class="b" style="left:120.2px;top:744.8px;width:62.499999999999986px;height:22.3px;box-sizing:border-box;background:#fdeaea;border:1px solid #dc5b57;border-radius:12px;"></div>
<div class="t" style="left:129.50px;top:750.76px;font-size:10.8px;color:#cf4843;font-weight:bold;transform:scaleX(1.0175);">req #348</div>
<div class="t" style="left:188.90px;top:749.10px;font-size:13px;color:#d65a55;transform:scaleX(0.9784);">How can I import the CSV file into the good</div>
<div class="t" style="left:120.50px;top:776.10px;font-size:13px;color:#d65a55;transform:scaleX(0.9747);">tracker?</div>
<div class="t" style="left:166.27px;top:776.10px;font-size:13px;color:#80879a;transform:scaleX(0.9747);"> has been updated by </div>
<div class="t" style="left:291.68px;top:776.10px;font-size:13px;color:#d65a55;transform:scaleX(0.9747);">Patrick Wood</div>
<div class="b" style="left:98.1px;top:816.1px;width:9px;height:9px;border:3px solid #fff;border-radius:50%;background:#36b0d4;"></div>
<div class="b" style="left:120.2px;top:811.4px;width:77.7px;height:22.3px;box-sizing:border-box;background:#e7f6fa;border:1px solid #48b7d4;border-radius:12px;"></div>
<div class="t" style="left:129.50px;top:817.36px;font-size:10.8px;color:#2fa3c4;font-weight:bold;transform:scaleX(1.0211);">story #6891</div>
<div class="t" style="left:204.10px;top:815.70px;font-size:13px;color:#3ab3d2;transform:scaleX(0.9573);">Have a nice Kanban UI</div>
<div class="t" style="left:332.09px;top:815.70px;font-size:13px;color:#80879a;transform:scaleX(0.9573);"> has been updated</div>
<div class="t" style="left:120.50px;top:842.70px;font-size:13px;color:#80879a;transform:scaleX(0.9791);">by </div>
<div class="t" style="left:137.48px;top:842.70px;font-size:13px;color:#3ab3d2;transform:scaleX(0.9791);">Liam Sonny</div>
<div class="b" style="left:98.1px;top:882.5px;width:9px;height:9px;border:3px solid #fff;border-radius:50%;background:#f8941d;"></div>
<div class="t" style="left:120.50px;top:882.10px;font-size:13px;color:#f19a31;transform:scaleX(0.9920);">John Dude</div>
<div class="t" style="left:182.88px;top:882.10px;font-size:13px;color:#80879a;transform:scaleX(0.9920);"> created </div>
<div class="t" style="left:233.06px;top:882.10px;font-size:13px;color:#f19a31;transform:scaleX(0.9920);">acomponents.md</div>
<div class="t" style="left:331.98px;top:882.10px;font-size:13px;color:#80879a;transform:scaleX(0.9920);"> in</div>
<div class="t" style="left:120.50px;top:909.10px;font-size:13px;color:#f19a31;transform:scaleX(1.0299);">draft-documentation</div>
<div class="t" style="left:239.59px;top:909.10px;font-size:13px;color:#80879a;transform:scaleX(1.0299);"> folder</div>
<div class="b" style="left:98.1px;top:948.5px;width:9px;height:9px;border:3px solid #fff;border-radius:50%;background:#f8941d;"></div>
<div class="t" style="left:120.50px;top:948.10px;font-size:13px;color:#f19a31;transform:scaleX(0.9878);">Veronica Peertuis</div>
<div class="t" style="left:221.16px;top:948.10px;font-size:13px;color:#80879a;transform:scaleX(0.9878);"> pushed 3 commits on </div>
<div class="t" style="left:350.35px;top:948.10px;font-size:13px;color:#f19a31;transform:scaleX(0.9878);">plugins/map</div>
<svg class="b" style="left:497.5px;top:777px" width="160" height="160" viewBox="0 0 160 160"><path d="M42.75 15.48 A74.5 74.5 0 0 1 112.66 13.04 L102.80 33.26 A52 52 0 0 0 54.00 34.97Z" fill="#da3a33" stroke="#fff" stroke-width="1.5"/><path d="M112.66 13.04 A74.5 74.5 0 0 1 152.87 64.51 L130.86 69.19 A52 52 0 0 0 102.80 33.26Z" fill="#e38a84" stroke="#fff" stroke-width="1.5"/><path d="M152.87 64.51 A74.5 74.5 0 0 1 147.52 111.49 L127.13 101.98 A52 52 0 0 0 130.86 69.19Z" fill="#f5d1d1" stroke="#fff" stroke-width="1.5"/><path d="M147.52 111.49 A74.5 74.5 0 0 1 116.12 145.16 L105.21 125.48 A52 52 0 0 0 127.13 101.98Z" fill="#fde300" stroke="#fff" stroke-width="1.5"/><path d="M116.12 145.16 A74.5 74.5 0 0 1 92.94 153.37 L89.03 131.21 A52 52 0 0 0 105.21 125.48Z" fill="#fdf08a" stroke="#fff" stroke-width="1.5"/><path d="M92.94 153.37 A74.5 74.5 0 0 1 80.00 154.50 L80.00 132.00 A52 52 0 0 0 89.03 131.21Z" fill="#fef6cf" stroke="#fff" stroke-width="1.5"/><path d="M80.00 154.50 A74.5 74.5 0 0 1 6.42 91.65 L28.64 88.13 A52 52 0 0 0 80.00 132.00Z" fill="#fb8c00" stroke="#fff" stroke-width="1.5"/><path d="M6.42 91.65 A74.5 74.5 0 0 1 42.75 15.48 L54.00 34.97 A52 52 0 0 0 28.64 88.13Z" fill="#fbb158" stroke="#fff" stroke-width="1.5"/></svg>
<div class="b" style="left:677px;top:751.9px;width:13px;height:13.0px;background:#fef6cf;border-radius:50%;"></div>
<div class="t" style="left:695.80px;top:752.89px;font-size:11px;color:#9a9a9a;transform:scaleX(0.9000);">Simple</div>
<div class="b" style="left:677px;top:774.5px;width:13px;height:13.0px;background:#fdf08a;border-radius:50%;"></div>
<div class="t" style="left:695.80px;top:775.49px;font-size:11px;color:#9a9a9a;transform:scaleX(0.9000);">Stratified</div>
<div class="b" style="left:677px;top:797.5px;width:13px;height:13.0px;background:#fde300;border-radius:50%;"></div>
<div class="t" style="left:695.80px;top:798.49px;font-size:11px;color:#9a9a9a;transform:scaleX(0.9000);">Systematic</div>
<div class="b" style="left:677px;top:836.5px;width:13px;height:13.0px;background:#f5d1d1;border-radius:50%;"></div>
<div class="t" style="left:695.80px;top:837.49px;font-size:11px;color:#9a9a9a;transform:scaleX(0.9000);">Cluster</div>
<div class="b" style="left:677px;top:859.0px;width:13px;height:13.0px;background:#e38a84;border-radius:50%;"></div>
<div class="t" style="left:695.80px;top:859.99px;font-size:11px;color:#9a9a9a;transform:scaleX(0.9000);">Multi-stage</div>
<div class="b" style="left:677px;top:882.0px;width:13px;height:13.0px;background:#da3a33;border-radius:50%;"></div>
<div class="t" style="left:695.80px;top:882.99px;font-size:11px;color:#9a9a9a;transform:scaleX(0.9000);">Non-probability</div>
<div class="b" style="left:677px;top:920.3px;width:13px;height:13.0px;background:#fbb158;border-radius:50%;"></div>
<div class="t" style="left:695.80px;top:921.29px;font-size:11px;color:#9a9a9a;transform:scaleX(0.9000);">Convenience</div>
<div class="b" style="left:677px;top:944.2px;width:13px;height:13.0px;background:#fb8c00;border-radius:50%;"></div>
<div class="t" style="left:695.80px;top:945.19px;font-size:11px;color:#9a9a9a;transform:scaleX(0.9000);">Qutota</div>
<div class="b" style="left:855px;top:906px;width:285px;height:1px;background:#dbe2ee;"></div>
<div class="b" style="left:872.6px;top:878.4px;width:12.0px;height:28.100000000000023px;background:#c8ede1;border-radius:2px 2px 0 0;"></div>
<div class="b" style="left:893.4px;top:850px;width:12.0px;height:56.5px;background:#3bc28e;border-radius:2px 2px 0 0;"></div>
<div class="t" style="left:879.37px;top:915.11px;font-size:10.5px;color:#9a9a9a;transform:scaleX(0.9000);">May</div>
<div class="b" style="left:924.4px;top:830.9px;width:12.0px;height:75.60000000000002px;background:#c8ede1;border-radius:2px 2px 0 0;"></div>
<div class="b" style="left:945.2px;top:890px;width:12.0px;height:16.5px;background:#3bc28e;border-radius:2px 2px 0 0;"></div>
<div class="t" style="left:932.48px;top:915.11px;font-size:10.5px;color:#9a9a9a;transform:scaleX(0.9000);">Jun</div>
<div class="b" style="left:976.2px;top:819.5px;width:12.0px;height:87.0px;background:#c8ede1;border-radius:2px 2px 0 0;"></div>
<div class="b" style="left:997.0px;top:790.6px;width:12.0px;height:115.89999999999998px;background:#3bc28e;border-radius:2px 2px 0 0;"></div>
<div class="t" style="left:985.86px;top:915.11px;font-size:10.5px;color:#9a9a9a;transform:scaleX(0.9000);">Jul</div>
<div class="b" style="left:1028.0px;top:878.4px;width:12.0px;height:28.100000000000023px;background:#c8ede1;border-radius:2px 2px 0 0;"></div>
<div class="b" style="left:1048.8px;top:749px;width:12.0px;height:157.5px;background:#3bc28e;border-radius:2px 2px 0 0;"></div>
<div class="t" style="left:1035.29px;top:915.11px;font-size:10.5px;color:#9a9a9a;transform:scaleX(0.9000);">Aug</div>
<div class="b" style="left:1079.8px;top:838.8px;width:12.0px;height:67.70000000000005px;background:#c8ede1;border-radius:2px 2px 0 0;"></div>
<div class="b" style="left:1100.6px;top:810px;width:12.0px;height:96.5px;background:#3bc28e;border-radius:2px 2px 0 0;"></div>
<div class="t" style="left:1087.09px;top:915.11px;font-size:10.5px;color:#9a9a9a;transform:scaleX(0.9000);">Sep</div>
<div class="b" style="left:855.3px;top:947px;width:13.700000000000045px;height:13.700000000000045px;background:#c8ede1;border-radius:50%;"></div>
<div class="t" style="left:874.60px;top:948.61px;font-size:10.5px;color:#9a9a9a;transform:scaleX(0.9000);">Open</div>
<div class="b" style="left:928.5px;top:947px;width:13.5px;height:13.700000000000045px;background:#3bc28e;border-radius:50%;"></div>
<div class="t" style="left:948.00px;top:948.61px;font-size:10.5px;color:#9a9a9a;transform:scaleX(0.9000);">Closed</div>
<div class="b" style="left:1206px;top:906px;width:285px;height:1px;background:#dbe2ee;"></div>
<div class="b" style="left:1226.0px;top:849.8px;width:33.799999999999955px;height:56.700000000000045px;background:#3fbdd6;border-radius:2px 2px 0 0;"></div>
<div class="t" style="left:1233.97px;top:915.11px;font-size:10.5px;color:#9a9a9a;transform:scaleX(0.9000);">May</div>
<div class="t" style="left:1235.39px;top:833.87px;font-size:9.6px;color:#3fb6d3;transform:scaleX(0.9375);">104</div>
<div class="b" style="left:1277.5px;top:890px;width:33.799999999999955px;height:16.5px;background:#3fbdd6;border-radius:2px 2px 0 0;"></div>
<div class="t" style="left:1286.78px;top:915.11px;font-size:10.5px;color:#9a9a9a;transform:scaleX(0.9000);">Jun</div>
<div class="t" style="left:1289.39px;top:874.07px;font-size:9.6px;color:#3fb6d3;transform:scaleX(0.9375);">38</div>
<div class="b" style="left:1329.0px;top:791.1px;width:33.799999999999955px;height:115.39999999999998px;background:#3fbdd6;border-radius:2px 2px 0 0;"></div>
<div class="t" style="left:1339.86px;top:915.11px;font-size:10.5px;color:#9a9a9a;transform:scaleX(0.9000);">Jul</div>
<div class="t" style="left:1338.39px;top:775.17px;font-size:9.6px;color:#3fb6d3;transform:scaleX(0.9375);">196</div>
<div class="b" style="left:1380.5px;top:748.9px;width:33.799999999999955px;height:157.60000000000002px;background:#3fbdd6;border-radius:2px 2px 0 0;"></div>
<div class="t" style="left:1388.99px;top:915.11px;font-size:10.5px;color:#9a9a9a;transform:scaleX(0.9000);">Aug</div>
<div class="t" style="left:1389.89px;top:732.97px;font-size:9.6px;color:#3fb6d3;transform:scaleX(0.9375);">245</div>
<div class="b" style="left:1432.0px;top:810.2px;width:33.799999999999955px;height:96.29999999999995px;background:#3fbdd6;border-radius:2px 2px 0 0;"></div>
<div class="t" style="left:1440.49px;top:915.11px;font-size:10.5px;color:#9a9a9a;transform:scaleX(0.9000);">Sep</div>
<div class="t" style="left:1441.39px;top:794.27px;font-size:9.6px;color:#3fb6d3;transform:scaleX(0.9375);">175</div>
<div class="b" style="left:1207px;top:946.5px;width:13.5px;height:13.5px;background:#3fbdd6;border-radius:50%;"></div>
<div class="t" style="left:1226.70px;top:948.11px;font-size:10.5px;color:#9a9a9a;transform:scaleX(0.9342);">Support request activity</div>
<svg class="b" style="left:9.8px;top:68.6px" width="15.5" height="15.5" viewBox="0 0 100 100"><rect x="40.0" y="0" width="20" height="30" rx="3" fill="#d4d6de" transform="rotate(0.0 50 50)"/><rect x="40.0" y="0" width="20" height="30" rx="3" fill="#d4d6de" transform="rotate(45.0 50 50)"/><rect x="40.0" y="0" width="20" height="30" rx="3" fill="#d4d6de" transform="rotate(90.0 50 50)"/><rect x="40.0" y="0" width="20" height="30" rx="3" fill="#d4d6de" transform="rotate(135.0 50 50)"/><rect x="40.0" y="0" width="20" height="30" rx="3" fill="#d4d6de" transform="rotate(180.0 50 50)"/><rect x="40.0" y="0" width="20" height="30" rx="3" fill="#d4d6de" transform="rotate(225.0 50 50)"/><rect x="40.0" y="0" width="20" height="30" rx="3" fill="#d4d6de" transform="rotate(270.0 50 50)"/><rect x="40.0" y="0" width="20" height="30" rx="3" fill="#d4d6de" transform="rotate(315.0 50 50)"/><circle cx="50" cy="50" r="35" fill="#d4d6de"/><circle cx="50" cy="50" r="17" fill="#2f2d2c"/></svg>
<svg class="b" style="left:23.6px;top:65.8px" width="9.2" height="9.2" viewBox="0 0 100 100"><rect x="38.0" y="0" width="24" height="30" rx="3" fill="#d4d6de" transform="rotate(0.0 50 50)"/><rect x="38.0" y="0" width="24" height="30" rx="3" fill="#d4d6de" transform="rotate(60.0 50 50)"/><rect x="38.0" y="0" width="24" height="30" rx="3" fill="#d4d6de" transform="rotate(120.0 50 50)"/><rect x="38.0" y="0" width="24" height="30" rx="3" fill="#d4d6de" transform="rotate(180.0 50 50)"/><rect x="38.0" y="0" width="24" height="30" rx="3" fill="#d4d6de" transform="rotate(240.0 50 50)"/><rect x="38.0" y="0" width="24" height="30" rx="3" fill="#d4d6de" transform="rotate(300.0 50 50)"/><circle cx="50" cy="50" r="30" fill="#d4d6de"/><circle cx="50" cy="50" r="13" fill="#2f2d2c"/></svg>
<svg class="b" style="left:23.6px;top:77.4px" width="9.2" height="9.2" viewBox="0 0 100 100"><rect x="38.0" y="0" width="24" height="30" rx="3" fill="#d4d6de" transform="rotate(0.0 50 50)"/><rect x="38.0" y="0" width="24" height="30" rx="3" fill="#d4d6de" transform="rotate(60.0 50 50)"/><rect x="38.0" y="0" width="24" height="30" rx="3" fill="#d4d6de" transform="rotate(120.0 50 50)"/><rect x="38.0" y="0" width="24" height="30" rx="3" fill="#d4d6de" transform="rotate(180.0 50 50)"/><rect x="38.0" y="0" width="24" height="30" rx="3" fill="#d4d6de" transform="rotate(240.0 50 50)"/><rect x="38.0" y="0" width="24" height="30" rx="3" fill="#d4d6de" transform="rotate(300.0 50 50)"/><circle cx="50" cy="50" r="30" fill="#d4d6de"/><circle cx="50" cy="50" r="13" fill="#2f2d2c"/></svg>
<svg class="b" style="left:11px;top:117px" width="21" height="21" viewBox="0 0 21 21">
<text x="0" y="6.5" font-size="7.5" font-family="Liberation Sans" fill="#d4d6de">1</text>
<text x="0" y="13.5" font-size="7.5" font-family="Liberation Sans" fill="#d4d6de">2</text>
<text x="0" y="20.5" font-size="7.5" font-family="Liberation Sans" fill="#d4d6de">3</text>
<rect x="6" y="3" width="15" height="2.6" fill="#d4d6de"/><rect x="6" y="9" width="15" height="2.6" fill="#d4d6de"/><rect x="6" y="15" width="15" height="2.6" fill="#d4d6de"/></svg>
<svg class="b" style="left:14px;top:168.5px" width="14" height="20" viewBox="0 0 14 20">
<circle cx="3" cy="3" r="2" fill="none" stroke="#d4d6de" stroke-width="1.5"/><circle cx="3" cy="17" r="2" fill="none" stroke="#d4d6de" stroke-width="1.5"/>
<circle cx="11" cy="4" r="2" fill="none" stroke="#d4d6de" stroke-width="1.5"/>
<path d="M3 5 V15 M11 6 C11 11 4 10 3.5 15" fill="none" stroke="#d4d6de" stroke-width="1.5"/></svg>
<svg class="b" style="left:10px;top:219px" width="22" height="17" viewBox="0 0 22 17">
<path d="M0 2 Q0 0 2 0 H7 L9 2 H16 Q18 2 18 4 V5 H5 L0 14Z" fill="#d4d6de"/>
<path d="M5.5 6.5 H22 L16.5 16.5 H0.5Z" fill="#d4d6de"/></svg>
<div class="t" style="left:8.5px;top:264px;font-family:'Liberation Serif',serif;font-size:26px;line-height:28px;color:#d4d6de;transform:scaleX(1.0);transform-origin:left;">W</div>
<svg class="b" style="left:12px;top:323px" width="18" height="14" viewBox="0 0 18 14">
<path d="M1.5 7 L6.5 12 L16.5 2" fill="none" stroke="#d4d6de" stroke-width="3.6" stroke-linejoin="miter"/></svg>
<div class="b" style="left:3.5px;top:391px;width:35.0px;height:35px;background:#1e1e1e;border-radius:50%;"></div>
<svg class="b" style="left:16px;top:402px" width="10" height="13" viewBox="0 0 10 13">
<path d="M2 1.5 L7.5 6.5 L2 11.5" fill="none" stroke="#9a9a9a" stroke-width="2.6"/></svg>
</body></html>
